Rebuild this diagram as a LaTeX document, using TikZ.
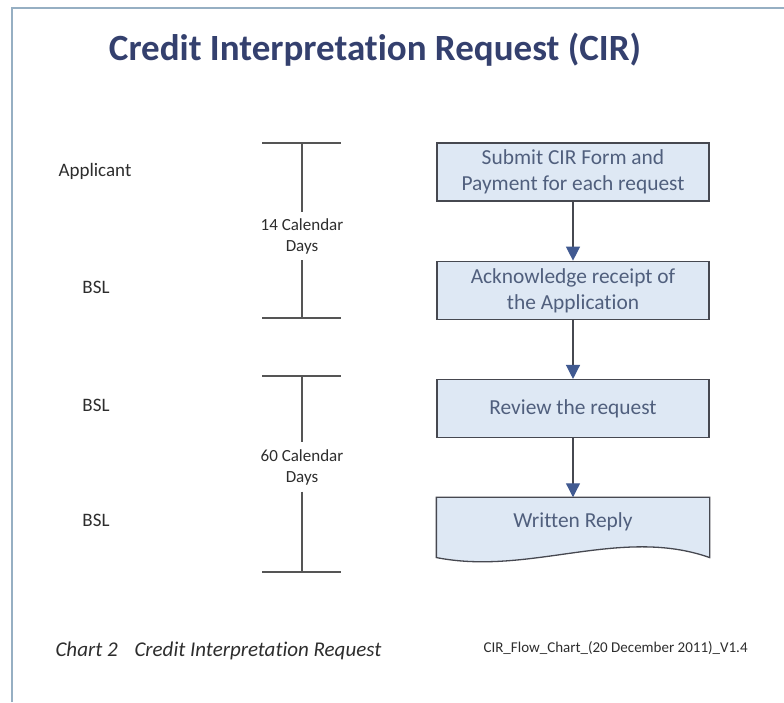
\documentclass[tikz,border=0pt]{standalone}
\usepackage{fontspec}
\setmainfont{Carlito}[Ligatures=NoCommon]
\usetikzlibrary{arrows.meta,positioning}

\definecolor{titleblue}{RGB}{52,64,110}
\definecolor{boxfill}{RGB}{222,232,244}
\definecolor{boxtext}{RGB}{80,95,125}
\definecolor{boxline}{RGB}{70,72,80}
\definecolor{arrowblue}{RGB}{65,90,145}
\definecolor{barline}{RGB}{85,85,85}
\definecolor{labeltext}{RGB}{45,45,45}
\definecolor{framecol}{RGB}{150,175,195}

\begin{document}
\begin{tikzpicture}[
    x=1pt, y=-1pt,
    node distance=59pt,
    block/.style={draw=boxline, fill=boxfill, line width=1.3pt, minimum width=272pt, minimum height=58pt, inner sep=0pt, align=center, text=boxtext, font=\fontsize{21.4}{26}\selectfont},
    who/.style={text=labeltext, font=\fontsize{19}{23}\selectfont},
    span/.style={text=labeltext, align=center, inner sep=0pt, font=\fontsize{17}{21}\selectfont},
    bar/.style={draw=barline, line width=1.6pt},
    link/.style={draw=boxline, line width=1.3pt, -{Triangle[length=14pt, width=14pt, color=arrowblue]}}
]
\useasboundingbox (0,0) rectangle (784,702);
\draw[framecol, line width=1.2pt] (12,702) -- (12,8) -- (784,8);

% title
\node[text=titleblue, font=\fontsize{37}{44}\selectfont\bfseries] (title) at (375,50) {Credit Interpretation Request (CIR)};

% flow
\node[block] (b1) at (573,172) {Submit CIR Form and\\Payment for each request};
\node[block, below=of b1] (b2) {Acknowledge receipt of\\the Application};
\node[block, below=of b2] (b3) {Review the request};
\node[block, below=of b3, draw=none, fill=none, minimum height=48pt] (b4) {Written Reply};
\filldraw[draw=boxline, fill=boxfill, line width=1.3pt]
    (b4.north west) -- (b4.north east) -- ([yshift=-11pt]b4.south east)
    .. controls (620,526) and (530,576) .. ([yshift=-11pt]b4.south west) -- cycle;
\node[text=boxtext, font=\fontsize{21.4}{26}\selectfont] at (b4) {Written Reply};
\draw[link] (b1) -- (b2);
\draw[link] (b2) -- (b3);
\draw[link] (b3) -- (b4);

% who acts
\node[who] (w1) at (95,171) {Applicant};
\node[who] (w2) at (96,287) {BSL};
\node[who] (w3) at (96,405) {BSL};
\node[who] (w4) at (96,520) {BSL};

% time spans
\coordinate (d1t) at (302,143);
\coordinate (d1b) at (302,318);
\node[span, minimum height=48pt] (d1) at (302,236) {14 Calendar\\Days};
\draw[bar] ([xshift=-40pt]d1t) -- ([xshift=39pt]d1t);
\draw[bar] ([xshift=-40pt]d1b) -- ([xshift=39pt]d1b);
\draw[bar] (d1t) -- (d1);
\draw[bar] (d1) -- (d1b);

\coordinate (d2t) at (302,376);
\coordinate (d2b) at (302,572);
\node[span, minimum height=49pt] (d2) at (302,467) {60 Calendar\\Days};
\draw[bar] ([xshift=-40pt]d2t) -- ([xshift=39pt]d2t);
\draw[bar] ([xshift=-40pt]d2b) -- ([xshift=39pt]d2b);
\draw[bar] (d2t) -- (d2);
\draw[bar] (d2) -- (d2b);

% footer
\node[anchor=west, text=labeltext, font=\fontsize{21}{25}\selectfont\itshape] (cap) at (52,651) {Chart 2\hspace{0.8em}Credit Interpretation Request};
\node[anchor=west, text=labeltext, font=\fontsize{15}{18}\selectfont] (ver) at (480,648) {CIR\_Flow\_Chart\_(20 December 2011)\_V1.4};
\end{tikzpicture}
\end{document}
